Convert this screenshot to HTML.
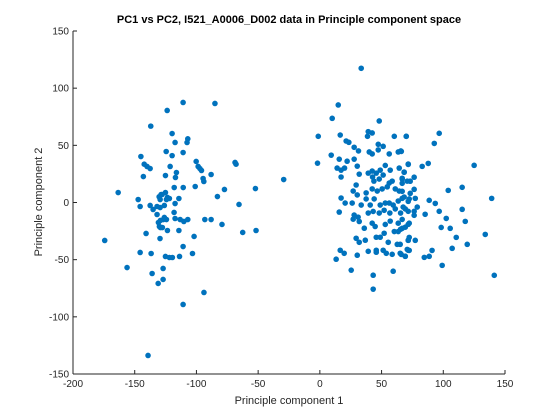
<!DOCTYPE html>
<html><head><meta charset="utf-8"><style>
body{margin:0;background:#fff;}
svg{display:block;font-family:"Liberation Sans",Arial,sans-serif;}
</style></head><body>
<svg id="chart" width="560" height="420" viewBox="0 0 560 420" xmlns="http://www.w3.org/2000/svg">
<rect width="560" height="420" fill="#fff"/>
<text x="289" y="23" text-anchor="middle" font-size="11" font-weight="bold" fill="#000">PC1 vs PC2, I521_A0006_D002 data in Principle component space</text>
<g id="axes"></g>
<g id="points"></g>
<text x="289" y="404" text-anchor="middle" font-size="11" fill="#262626">Principle component 1</text>
<text transform="translate(42,202) rotate(-90)" text-anchor="middle" font-size="11" fill="#262626">Principle component 2</text>
</svg>
<script>
const xTicks = [-200,-150,-100,-50,0,50,100,150];
const yTicks = [-150,-100,-50,0,50,100,150];
const pc1 = [-110.8,-85,-123.7,-137,-119.7,-117.3,-107,-107.6,-124.5,-119.7,-110.8,-145,-142.3,-140,-137.5,-121.3,-100.2,-98.6,-97.2,-95.9,-116.2,-117,-125.1,-143,-94.6,-94,-88.1,-68.7,-67.9,-29.3,-52.2,-77.3,-83,-101,-110.7,-118,-163.4,-147.2,-145.6,-137.5,-135.1,-131.9,-129.4,-130.2,-128.6,-127.8,-129.4,-125.1,-123.5,-121.9,-124.3,-114.2,-117.3,-126,-131.9,-118.1,-117.3,-126,-124.3,-126.8,-129.2,-130.8,-130,-127.6,-129.2,-123.5,-113.2,-110.2,-107,-93.2,-88.1,-79.3,-65.5,-62.5,-51.7,-114.2,-140.8,-129.5,-101.9,-174.3,-110.8,-145.6,-136.7,-125.1,-121.9,-119.5,-113.7,-103.2,-156.2,-127,-135.9,-127,-131,-93.9,-110.8,-139.2,
33.5,14.9,10,48.1,-1.3,16.5,39.2,42.4,38.6,21.3,23.5,47.3,51.3,27.8,31.3,60.3,70,40,42.4,47.3,56.2,63.5,65.6,9.2,-1.9,15.7,22.1,27.8,14,17.2,20,17.2,30.3,31.9,39.2,42.4,45.7,48.9,53,57,64.3,68.3,71.6,42.7,48.1,51.3,43.8,56.2,58.6,66.7,70.8,29.4,27,30.3,37.5,42.4,46.5,50.5,54.6,61.1,64.3,17.2,20.5,26.2,33.5,37.5,40.8,44,48.9,53,56.2,59.4,63.5,68.3,72.4,15.7,27.8,31,39.2,43.2,48.1,52.1,56.7,61.1,65.4,69.2,27,31.9,42.4,44.8,53,57,63.5,65.4,69.2,72.4,36,45.7,48.9,52.1,60.3,63.5,29.4,31.9,36.8,55.4,62.7,65.1,71.6,39.2,45.7,45.7,51.3,53.8,58.6,65.1,69.2,71.6,16.5,19.7,13.2,30.3,25.4,43.2,59.4,43.2,
70,96.7,92.7,66,71.6,82.9,87.8,125,68.3,66.7,76.4,73.2,66.7,76.4,73.2,66.7,104,115.3,139.2,66.7,71.6,77.3,88.6,93.5,67.5,71.6,76.4,78.9,96.7,85.3,76.4,115.3,117.8,102.4,98.3,105.6,66.7,71.6,66.7,110.5,134,119.4,107.2,72.4,77.3,71.6,70.8,72.4,90.9,88.6,84.6,65.9,69.2,99.1,141.3];
const pc2 = [87.5,86.6,80.5,66.8,60.3,52.5,55.7,52.5,44.6,41,43.7,40.2,33.5,31.5,29.7,31.5,35.9,31.5,29.7,28,26.2,21.9,23.6,22.7,21,18.4,24.5,35,33.5,20.1,12.2,11.4,5.2,14,13.1,13.1,8.7,2.6,-3.5,-2.6,-6.1,-3.5,-4.4,5,7,7,2.6,8.7,4.4,3.5,2.6,3.5,-0.9,-2.6,-10.5,-8.7,-14,-13.1,-14.9,-14.9,-15.7,-17.5,-21,-21.9,-21.9,-24.5,-14.9,-16.6,-14.9,-14.9,-14.9,-19.2,-1.7,-26.2,-24.5,-24.5,-27.1,-31.5,-29.7,-33.2,-38.5,-43.7,-44.6,-47.2,-48.1,-48.1,-47.2,-44.6,-56.9,-57.7,-62.1,-67.3,-70.8,-78.7,-89.2,-133.8,
117.4,85.3,73.6,71.3,57.9,59,62,60.8,57.9,53.8,52.6,50.9,49.1,48.3,45.1,57.9,57.9,44.2,42.5,46,42.5,44.2,45.1,41.4,34.4,37.9,36.1,37.9,30.1,28.3,30.1,22.3,31.8,24.8,25.7,27.5,25.7,28.3,32.4,28.3,30.1,26.6,33.6,22.3,20.5,24,18.7,17,18.7,20.5,18.7,15.3,10,6.6,8.4,11.9,10,11.9,13.7,11.9,10,3.9,-0.5,-0.5,-2.2,3.1,-2.2,3.1,-2.2,-0.5,-0.5,-2.2,1.3,4.8,3.1,-8.4,-11,-12.8,-9.2,-7.8,-9.2,-6.8,-9.2,-5.6,-9.2,-5.6,-14.6,-16.6,-18.1,-21,-19.2,-16.3,-18.1,-23.4,-21.6,-18.1,-22.5,-30.4,-30.4,-26.9,-25.4,-25.4,-31.3,-34.8,-33,-34.8,-36.6,-36.6,-33,-42.7,-41.8,-43.5,-41.8,-44.4,-45.3,-44.4,-47,-41.8,-41.8,-44.4,-49.6,-46.1,-59.2,-63.6,-60.1,-75.8,
57.9,60.5,51.7,44.7,33.3,31.6,34.2,32.5,26.4,21.2,22.1,18.6,16.8,11.5,8,9.8,10.6,13.3,3.6,3.6,1,3.6,1.9,-0.8,-4,-7.7,-7.7,-4,-7.7,-10.3,-11.2,-6,-16.5,-13.9,-21.8,-22.6,-14.8,-19.1,-22.6,-30.5,-27.9,-36.6,-40.1,-30.5,-33.1,-33.1,-41,-41.9,-41.9,-47.1,-48,-45.4,-47.1,-55,-63.7];

const NS='http://www.w3.org/2000/svg';
const L=73,R=505,T=31,B=374;
const xMin=-200,xMax=150,yMin=-150,yMax=150;
function sx(v){return L+(v-xMin)/(xMax-xMin)*(R-L);}
function sy(v){return B-(v-yMin)/(yMax-yMin)*(B-T);}
function mk(tag,attrs,parent){const e=document.createElementNS(NS,tag);for(const k in attrs)e.setAttribute(k,attrs[k]);parent.appendChild(e);return e;}

const axes=document.getElementById('axes');
let a=mk('line',{x1:L,y1:B,x2:R,y2:B,stroke:'#262626','stroke-width':1},axes);


a=mk('line',{x1:L,y1:T,x2:L,y2:B,stroke:'#262626','stroke-width':1},axes);


xTicks.forEach(v=>{
  const x=sx(v);
  const t=mk('line',{x1:x,y1:B,x2:x,y2:B-4,stroke:'#262626'},axes);
  
  
  const l=mk('text',{x:x,y:B+13,'text-anchor':'middle','font-size':10,fill:'#262626'},axes);
  l.textContent=v;
  
  
});
yTicks.forEach(v=>{
  const y=sy(v);
  const t=mk('line',{x1:L,y1:y,x2:L+4,y2:y,stroke:'#262626'},axes);
  
  
  const l=mk('text',{x:L-4,y:y+3.5,'text-anchor':'end','font-size':10,fill:'#262626'},axes);
  l.textContent=v;
  
  
});
const pts=document.getElementById('points');
for(let i=0;i<pc1.length;i++){
  const c=mk('circle',{cx:sx(pc1[i]),cy:sy(pc2[i]),r:2.8,fill:'#0072BD'},pts);
  
  
}
</script>
</body></html>
